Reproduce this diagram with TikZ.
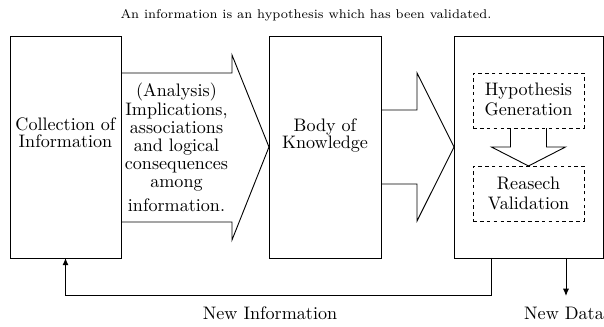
\documentclass[tikz,border=0pt]{standalone}
\usetikzlibrary{arrows.meta,calc}
\begin{document}
\begin{tikzpicture}[x=0.5525pt,y=-0.5525pt,
  every node/.style={inner sep=0pt, outer sep=0pt},
  bigbox/.style={draw, line width=0.5pt, rectangle, minimum height=122.65pt},
  dbox/.style={draw, line width=0.5pt, dash pattern=on 2pt off 1.8pt, minimum width=61.3pt, minimum height=30.4pt},
  lbl/.style={align=center, font=\fontsize{10}{#1}\selectfont},
  fat/.style={draw, line width=0.5pt, line join=miter},
  conn/.style={draw, line width=0.5pt, -{Latex[length=4pt,width=3.3pt]}}
]
\useasboundingbox (0,0) rectangle (604,327);

% title
\node[anchor=base, font=\scriptsize] (title) at (306,19) {An information is an hypothesis which has been validated.};

% boxes
\node[bigbox, minimum width=61.33pt] (box1) at (65.5,147) {};
\node[bigbox, minimum width=61.9pt] (box2) at (325,147) {};
\node[bigbox, minimum width=82.3pt] (box3) at (528.5,147) {};
\node[dbox] (hyp) at (528.5,100.5) {};
\node[dbox] (val) at (528.5,193.5) {};

% labels
\node[lbl=9.4pt] (t1) at (65.5,132.9) {Collection of\\Information};
\node[lbl=9.4pt] (t2) at (325,135) {Body of\\Knowledge};
\node[lbl=10pt] (ta) at (176.5,147.7) {(Analysis)\\Implications,\\associations\\and logical\\consequences\\among\\[3.5pt]information.};
\node[lbl=11pt] (th) at (528.5,99.7) {Hypothesis\\Generation};
\node[lbl=10.7pt] (tv) at (528.5,193.4) {Reasech\\Validation};
\node[anchor=base] (newinfo) at (270,320) {New Information};
\node[anchor=base] (newdata) at (564,320) {New Data};

% fat arrows
\draw[fat] ($(box1.east)+(0,-74)$) -- (232,73) -- (232,55) -- (box2.west) -- (232,240) -- (232,222) -- ($(box1.east)+(0,75)$);
\draw[fat] ($(box2.east)+(0,-37)$) -- (417,110) -- (417,73) -- (box3.west) -- (417,221) -- (417,184) -- ($(box2.east)+(0,37)$);
\draw[fat] ($(hyp.south)+(-18,0)$) -- ++(0,19) -- ++(-19,0) -- (val.north) -- ($(val.north)+(37,-19)$) -- ++(-19,0) -- ($(hyp.south)+(18,0)$);

% connectors
\coordinate (fb) at ($(box3.south)+(-37.5,0)$);
\coordinate (nd) at ($(box3.south)+(37.5,38)$);
\draw[conn] (fb) -- ++(0,37) -| (box1.south);
\draw[conn] (box3.south -| nd) -- (nd);
\end{tikzpicture}
\end{document}
